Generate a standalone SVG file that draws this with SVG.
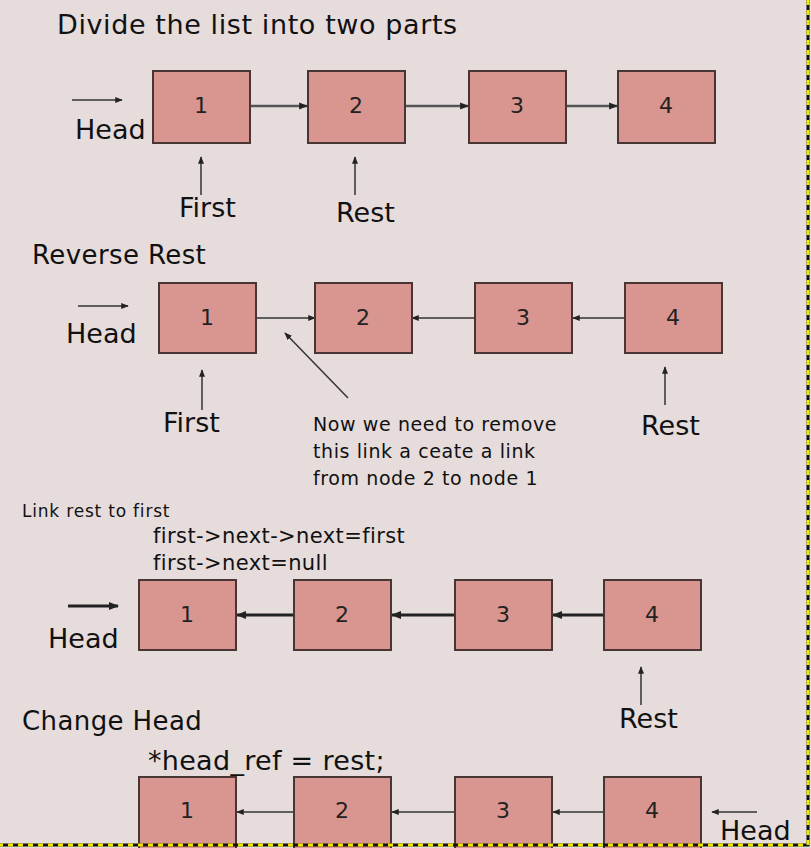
<svg xmlns="http://www.w3.org/2000/svg" width="811" height="848" viewBox="0 0 811 848">
<defs>
<style>
.b{fill:#d9958f;stroke:#4a3535;stroke-width:2}
.n{font-family:"DejaVu Sans",sans-serif;font-size:22px;fill:#222;text-anchor:middle}
.t{font-family:"DejaVu Sans",sans-serif;fill:#111}
.l{stroke:#333;stroke-width:1.5;fill:none}
.k{stroke:#222;stroke-width:3;fill:none}
.g{stroke:#555;stroke-width:2.5;fill:none}
</style>
<marker id="a" viewBox="0 0 10 10" refX="9" refY="5" markerWidth="5" markerHeight="5" orient="auto"><path d="M0,1L10,5L0,9z" fill="#222"/></marker>
<marker id="s" viewBox="0 0 10 10" refX="9" refY="5" markerWidth="3.5" markerHeight="3.5" orient="auto"><path d="M0,1L10,5L0,9z" fill="#222"/></marker>
</defs>
<rect width="811" height="848" fill="#e6dcdc"/>
<text class="t" x="57" y="34" font-size="27" letter-spacing="0.6">Divide the list into two parts</text>
<text class="t" x="32" y="264" font-size="26" letter-spacing="0.4">Reverse Rest</text>
<text class="t" x="22" y="517" font-size="17" letter-spacing="0.8">Link rest to first</text>
<text class="t" x="153" y="543" font-size="21" letter-spacing="0.4">first-&gt;next-&gt;next=first</text>
<text class="t" x="153" y="570" font-size="21" letter-spacing="0.4">first-&gt;next=null</text>
<text class="t" x="22" y="730" font-size="26" letter-spacing="0.4">Change Head</text>
<text class="t" x="148" y="770" font-size="27" letter-spacing="0.3">*head_ref = rest;</text>
<g class="t" font-size="19" letter-spacing="0.6" fill="#222">
<text x="313" y="431">Now we need to remove</text>
<text x="313" y="458">this link a ceate a link</text>
<text x="313" y="485">from node 2 to node 1</text>
</g>
<g id="labels" class="t" font-size="27">
<text x="75" y="139">Head</text><text x="179" y="217">First</text><text x="336" y="222">Rest</text>
<text x="66" y="343">Head</text><text x="163" y="432">First</text><text x="641" y="435">Rest</text>
<text x="48" y="648">Head</text><text x="619" y="728">Rest</text>
<text x="720" y="840">Head</text>
</g>
<g id="connectors">
<line class="l" x1="72" y1="100" x2="122" y2="100" marker-end="url(#a)"/>
<line class="g" x1="250" y1="106" x2="307" y2="106" marker-end="url(#s)"/>
<line class="g" x1="405" y1="106" x2="468" y2="106" marker-end="url(#s)"/>
<line class="g" x1="566" y1="106" x2="617" y2="106" marker-end="url(#s)"/>
<line class="l" x1="201" y1="195" x2="201" y2="157" marker-end="url(#a)"/>
<line class="l" x1="355" y1="195" x2="355" y2="157" marker-end="url(#a)"/>
<line class="l" x1="78" y1="306" x2="128" y2="306" marker-end="url(#a)"/>
<line class="l" x1="256" y1="318" x2="315" y2="318" marker-end="url(#a)"/>
<line class="l" x1="475" y1="318" x2="412" y2="318" marker-end="url(#a)"/>
<line class="l" x1="625" y1="318" x2="573" y2="318" marker-end="url(#a)"/>
<line class="l" x1="202" y1="410" x2="202" y2="370" marker-end="url(#a)"/>
<line class="l" x1="348" y1="398" x2="285" y2="333" marker-end="url(#a)"/>
<line class="l" x1="665" y1="405" x2="665" y2="367" marker-end="url(#a)"/>
<line class="k" x1="68" y1="606" x2="118" y2="606" marker-end="url(#s)"/>
<line class="k" x1="294" y1="615" x2="237" y2="615" marker-end="url(#s)"/>
<line class="k" x1="455" y1="615" x2="392" y2="615" marker-end="url(#s)"/>
<line class="k" x1="604" y1="615" x2="553" y2="615" marker-end="url(#s)"/>
<line class="l" x1="641" y1="705" x2="641" y2="667" marker-end="url(#a)"/>
<line class="l" x1="294" y1="812" x2="237" y2="812" marker-end="url(#a)"/>
<line class="l" x1="455" y1="812" x2="392" y2="812" marker-end="url(#a)"/>
<line class="l" x1="604" y1="812" x2="553" y2="812" marker-end="url(#a)"/>
<line class="l" x1="757" y1="812" x2="712" y2="812" marker-end="url(#a)"/>
</g>
<g id="r1">
<g id="r1n1"><rect class="b" x="153" y="71" width="97" height="72"/><text class="n" x="201" y="113">1</text></g>
<g id="r1n2"><rect class="b" x="308" y="71" width="97" height="72"/><text class="n" x="356" y="113">2</text></g>
<g id="r1n3"><rect class="b" x="469" y="71" width="97" height="72"/><text class="n" x="517" y="113">3</text></g>
<g id="r1n4"><rect class="b" x="618" y="71" width="97" height="72"/><text class="n" x="666" y="113">4</text></g>
</g>
<g id="r2">
<g id="r2n1"><rect class="b" x="159" y="283" width="97" height="70"/><text class="n" x="207" y="325">1</text></g>
<g id="r2n2"><rect class="b" x="315" y="283" width="97" height="70"/><text class="n" x="363" y="325">2</text></g>
<g id="r2n3"><rect class="b" x="475" y="283" width="97" height="70"/><text class="n" x="523" y="325">3</text></g>
<g id="r2n4"><rect class="b" x="625" y="283" width="97" height="70"/><text class="n" x="673" y="325">4</text></g>
</g>
<g id="r3">
<g id="r3n1"><rect class="b" x="139" y="580" width="97" height="70"/><text class="n" x="187" y="622">1</text></g>
<g id="r3n2"><rect class="b" x="294" y="580" width="97" height="70"/><text class="n" x="342" y="622">2</text></g>
<g id="r3n3"><rect class="b" x="455" y="580" width="97" height="70"/><text class="n" x="503" y="622">3</text></g>
<g id="r3n4"><rect class="b" x="604" y="580" width="97" height="70"/><text class="n" x="652" y="622">4</text></g>
</g>
<g id="r4">
<g id="r4n1"><rect class="b" x="139" y="777" width="97" height="80"/><text class="n" x="187" y="818">1</text></g>
<g id="r4n2"><rect class="b" x="294" y="777" width="97" height="80"/><text class="n" x="342" y="818">2</text></g>
<g id="r4n3"><rect class="b" x="455" y="777" width="97" height="80"/><text class="n" x="503" y="818">3</text></g>
<g id="r4n4"><rect class="b" x="604" y="777" width="97" height="80"/><text class="n" x="652" y="818">4</text></g>
</g>
<g id="border">
<path d="M808,0V845H0" fill="none" stroke="#111" stroke-width="3"/>
<path d="M808,0V845H0" fill="none" stroke="#f2e600" stroke-width="3" stroke-dasharray="5 5"/>
</g>
</svg>
